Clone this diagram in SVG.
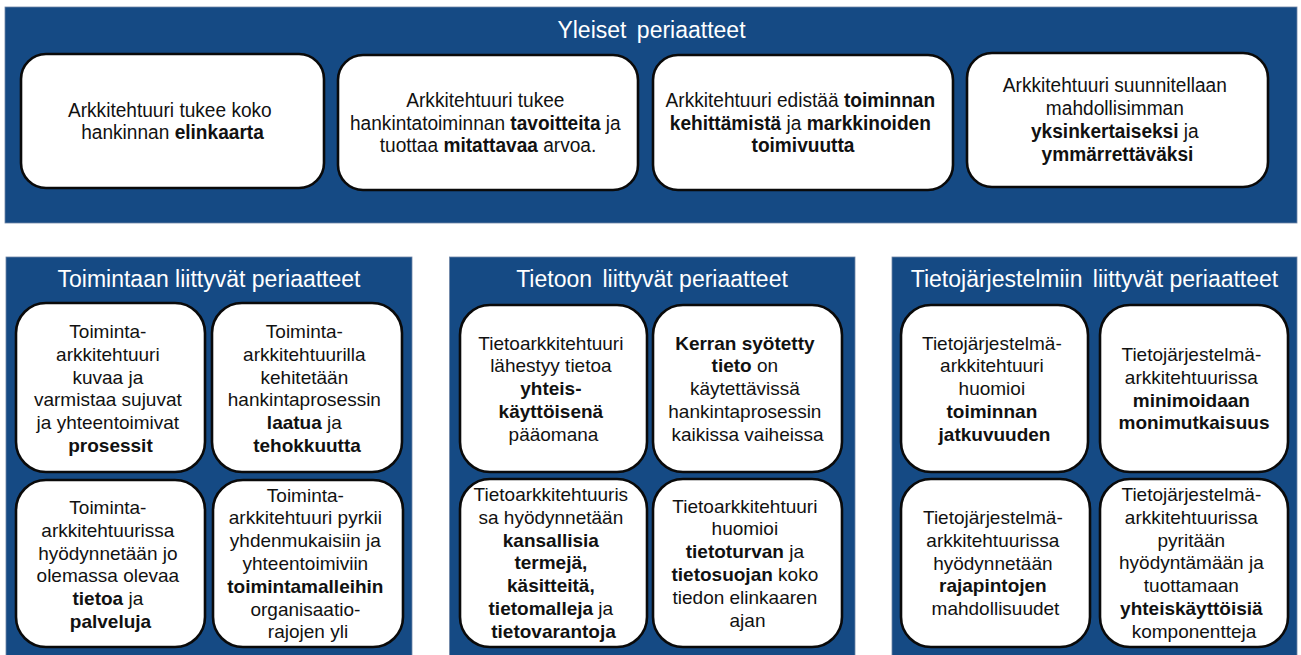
<svg xmlns="http://www.w3.org/2000/svg" width="1301" height="655" viewBox="0 0 1301 655">
  <style>
    .panel { fill: #154a84; stroke: #6f86a6; stroke-width: 0.8; }
    .title { font-family: "Liberation Sans", Arial, sans-serif; font-size: 23px; fill: #ffffff; text-anchor: middle; }
    .box { fill: #ffffff; stroke: #0a0a0a; stroke-width: 2.6; }
    .gen { font-family: "Liberation Sans", Arial, sans-serif; font-size: 21px; fill: #111111; text-anchor: middle; }
    .sub { font-family: "Liberation Sans", Arial, sans-serif; font-size: 19px; fill: #111111; text-anchor: middle; }
    .b { font-weight: bold; }
  </style>

  <!-- General principles panel -->
  <g id="panel-general">
    <rect class="panel" x="5" y="7" width="1292" height="216"/>
    <text class="title" x="651.5" y="38">Yleiset<tspan dx="4"> periaatteet</tspan></text>
  </g>

  <g id="gen-1">
    <rect class="box" x="21" y="54" width="303" height="134" rx="25"/>
    <text class="gen" transform="translate(172.5 0) scale(0.91 1)">
      <tspan x="0" y="117">Arkkitehtuuri tukee koko</tspan>
      <tspan x="0" y="139.5">hankinnan <tspan class="b">elinkaarta</tspan></tspan>
    </text>
  </g>

  <g id="gen-2">
    <rect class="box" x="338" y="55" width="300" height="135" rx="25"/>
    <text class="gen" transform="translate(488 0) scale(0.91 1)">
      <tspan x="0" y="107.5">Arkkitehtuuri tukee</tspan>
      <tspan x="0" y="130">hankintatoiminnan <tspan class="b">tavoitteita</tspan> ja</tspan>
      <tspan x="0" y="152.5">tuottaa <tspan class="b">mitattavaa</tspan> arvoa.</tspan>
    </text>
  </g>

  <g id="gen-3">
    <rect class="box" x="653" y="55" width="300" height="135" rx="25"/>
    <text class="gen" transform="translate(803 0) scale(0.91 1)">
      <tspan x="0" y="107.5">Arkkitehtuuri edistää <tspan class="b">toiminnan</tspan></tspan>
      <tspan x="0" y="130"><tspan class="b">kehittämistä</tspan>  ja <tspan class="b">markkinoiden</tspan></tspan>
      <tspan x="0" y="152.5"><tspan class="b">toimivuutta</tspan></tspan>
    </text>
  </g>

  <g id="gen-4">
    <rect class="box" x="967" y="53" width="301" height="134" rx="25"/>
    <text class="gen" transform="translate(1117.5 0) scale(0.91 1)">
      <tspan x="0" y="92">Arkkitehtuuri suunnitellaan</tspan>
      <tspan x="0" y="115">mahdollisimman</tspan>
      <tspan x="0" y="138"><tspan class="b">yksinkertaiseksi</tspan> ja</tspan>
      <tspan x="0" y="161"><tspan class="b">ymmärrettäväksi</tspan></tspan>
    </text>
  </g>

  <!-- Business principles panel -->
  <g id="panel-business">
    <rect class="panel" x="6" y="257" width="406" height="402"/>
    <text class="title" x="209" y="287">Toimintaan liittyvät periaatteet</text>
  </g>

  <g id="bus-1">
    <rect class="box" x="16" y="303" width="189" height="169" rx="30"/>
    <text class="sub">
      <tspan x="110.5" y="338">Toiminta-</tspan>
      <tspan x="110.5" y="360.8">arkkitehtuuri</tspan>
      <tspan x="110.5" y="383.6">kuvaa ja</tspan>
      <tspan x="110.5" y="406.4">varmistaa sujuvat</tspan>
      <tspan x="110.5" y="429.2">ja yhteentoimivat</tspan>
      <tspan x="110.5" y="452" class="b">prosessit</tspan>
    </text>
  </g>

  <g id="bus-2">
    <rect class="box" x="212" y="303" width="190" height="169" rx="30"/>
    <text class="sub">
      <tspan x="307" y="338">Toiminta-</tspan>
      <tspan x="307" y="360.8">arkkitehtuurilla</tspan>
      <tspan x="307" y="383.6">kehitetään</tspan>
      <tspan x="307" y="406.4">hankintaprosessin</tspan>
      <tspan x="307" y="429.2"><tspan class="b">laatua</tspan> ja</tspan>
      <tspan x="307" y="452" class="b">tehokkuutta</tspan>
    </text>
  </g>

  <g id="bus-3">
    <rect class="box" x="16" y="480" width="189" height="167" rx="30"/>
    <text class="sub">
      <tspan x="110.5" y="514">Toiminta-</tspan>
      <tspan x="110.5" y="536.8">arkkitehtuurissa</tspan>
      <tspan x="110.5" y="559.6">hyödynnetään jo</tspan>
      <tspan x="110.5" y="582.4">olemassa olevaa</tspan>
      <tspan x="110.5" y="605.2"><tspan class="b">tietoa</tspan> ja</tspan>
      <tspan x="110.5" y="628" class="b">palveluja</tspan>
    </text>
  </g>

  <g id="bus-4">
    <rect class="box" x="213" y="480" width="190" height="167" rx="30"/>
    <text class="sub">
      <tspan x="308" y="501.5">Toiminta-</tspan>
      <tspan x="308" y="524.3">arkkitehtuuri pyrkii</tspan>
      <tspan x="308" y="547.1">yhdenmukaisiin ja</tspan>
      <tspan x="308" y="569.9">yhteentoimiviin</tspan>
      <tspan x="308" y="592.7" class="b">toimintamalleihin</tspan>
      <tspan x="308" y="615.5">organisaatio-</tspan>
      <tspan x="308" y="638.3">rajojen yli</tspan>
    </text>
  </g>

  <!-- Information principles panel -->
  <g id="panel-information">
    <rect class="panel" x="449.5" y="257" width="405.5" height="402"/>
    <text class="title" x="652" y="287">Tietoon<tspan dx="4"> liittyvät periaatteet</tspan></text>
  </g>

  <g id="info-1">
    <rect class="box" x="460" y="305" width="187" height="167" rx="30"/>
    <text class="sub">
      <tspan x="553.5" y="349.5">Tietoarkkitehtuuri</tspan>
      <tspan x="553.5" y="372.3">lähestyy tietoa</tspan>
      <tspan x="553.5" y="395.1" class="b">yhteis-</tspan>
      <tspan x="553.5" y="417.9" class="b">käyttöisenä</tspan>
      <tspan x="553.5" y="440.7">pääomana</tspan>
    </text>
  </g>

  <g id="info-2">
    <rect class="box" x="653" y="305" width="189" height="167" rx="30"/>
    <text class="sub">
      <tspan x="747.5" y="349.5" class="b">Kerran syötetty</tspan>
      <tspan x="747.5" y="372.3"><tspan class="b">tieto</tspan> on</tspan>
      <tspan x="747.5" y="395.1">käytettävissä</tspan>
      <tspan x="747.5" y="417.9">hankintaprosessin</tspan>
      <tspan x="747.5" y="440.7">kaikissa vaiheissa</tspan>
    </text>
  </g>

  <g id="info-3">
    <rect class="box" x="460" y="479" width="187" height="168" rx="30"/>
    <text class="sub">
      <tspan x="553.5" y="501">Tietoarkkitehtuuris</tspan>
      <tspan x="553.5" y="523.8">sa hyödynnetään</tspan>
      <tspan x="553.5" y="546.6" class="b">kansallisia</tspan>
      <tspan x="553.5" y="569.4" class="b">termejä,</tspan>
      <tspan x="553.5" y="592.2" class="b">käsitteitä,</tspan>
      <tspan x="553.5" y="615"><tspan class="b">tietomalleja</tspan> ja</tspan>
      <tspan x="553.5" y="637.8" class="b">tietovarantoja</tspan>
    </text>
  </g>

  <g id="info-4">
    <rect class="box" x="653" y="479" width="189" height="168" rx="30"/>
    <text class="sub">
      <tspan x="747.5" y="512.5">Tietoarkkitehtuuri</tspan>
      <tspan x="747.5" y="535.3">huomioi</tspan>
      <tspan x="747.5" y="558.1"><tspan class="b">tietoturvan</tspan> ja</tspan>
      <tspan x="747.5" y="580.9"><tspan class="b">tietosuojan</tspan> koko</tspan>
      <tspan x="747.5" y="603.7">tiedon elinkaaren</tspan>
      <tspan x="747.5" y="626.5">ajan</tspan>
    </text>
  </g>

  <!-- Information systems principles panel -->
  <g id="panel-systems">
    <rect class="panel" x="892" y="257" width="405" height="402"/>
    <text class="title" x="1094.5" y="287">Tietojärjestelmiin<tspan dx="4"> liittyvät periaatteet</tspan></text>
  </g>

  <g id="sys-1">
    <rect class="box" x="901" y="305" width="187" height="167" rx="30"/>
    <text class="sub">
      <tspan x="994.5" y="349.5">Tietojärjestelmä-</tspan>
      <tspan x="994.5" y="372.3">arkkitehtuuri</tspan>
      <tspan x="994.5" y="395.1">huomioi</tspan>
      <tspan x="994.5" y="417.9" class="b">toiminnan</tspan>
      <tspan x="994.5" y="440.7" class="b">jatkuvuuden</tspan>
    </text>
  </g>

  <g id="sys-2">
    <rect class="box" x="1100" y="305" width="188" height="167" rx="30"/>
    <text class="sub">
      <tspan x="1194" y="361">Tietojärjestelmä-</tspan>
      <tspan x="1194" y="383.8">arkkitehtuurissa</tspan>
      <tspan x="1194" y="406.6" class="b">minimoidaan</tspan>
      <tspan x="1194" y="429.4" class="b">monimutkaisuus</tspan>
    </text>
  </g>

  <g id="sys-3">
    <rect class="box" x="901" y="479" width="189" height="168" rx="30"/>
    <text class="sub">
      <tspan x="995.5" y="524">Tietojärjestelmä-</tspan>
      <tspan x="995.5" y="546.8">arkkitehtuurissa</tspan>
      <tspan x="995.5" y="569.6">hyödynnetään</tspan>
      <tspan x="995.5" y="592.4" class="b">rajapintojen</tspan>
      <tspan x="995.5" y="615.2">mahdollisuudet</tspan>
    </text>
  </g>

  <g id="sys-4">
    <rect class="box" x="1100" y="479" width="188" height="168" rx="30"/>
    <text class="sub">
      <tspan x="1194" y="501">Tietojärjestelmä-</tspan>
      <tspan x="1194" y="523.8">arkkitehtuurissa</tspan>
      <tspan x="1194" y="546.6">pyritään</tspan>
      <tspan x="1194" y="569.4">hyödyntämään ja</tspan>
      <tspan x="1194" y="592.2">tuottamaan</tspan>
      <tspan x="1194" y="615" class="b">yhteiskäyttöisiä</tspan>
      <tspan x="1194" y="637.8">komponentteja</tspan>
    </text>
  </g>
</svg>
